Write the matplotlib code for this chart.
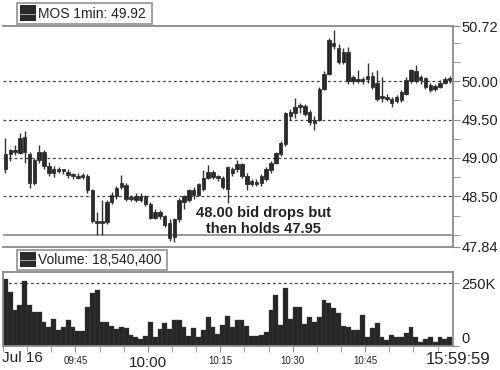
import numpy as np
import matplotlib
matplotlib.use("Agg")
import matplotlib.pyplot as plt
from matplotlib.patches import Rectangle
from matplotlib.lines import Line2D

plt.rcParams['font.family'] = ['Liberation Sans', 'DejaVu Sans']

# 1-minute bars from 09:30
opens = [48.85, 49.05, 49.10, 49.07, 49.28, 49.05, 48.68, 48.97, 49.08, 48.90,
         48.80, 48.86, 48.83, 48.82, 48.78, 48.77, 48.75, 48.77, 48.58, 48.18,
         48.15, 48.16, 48.43, 48.50, 48.62, 48.65, 48.46, 48.50, 48.45, 48.50,
         48.40, 48.22, 48.30, 48.24, 48.15, 47.97, 48.20, 48.42, 48.45, 48.58,
         48.52, 48.60, 48.74, 48.82, 48.75, 48.74, 48.60, 48.80, 48.85, 48.92,
         48.76, 48.70, 48.66, 48.68, 48.72, 48.84, 48.93, 49.05, 49.18, 49.55,
         49.58, 49.66, 49.68, 49.60, 49.50, 49.50, 49.90, 50.10, 50.50, 50.43,
         50.25, 50.38, 50.00, 50.02, 50.00, 50.03, 50.07, 49.98, 49.78, 49.80,
         49.77, 49.74, 49.75, 49.84, 50.00, 50.14, 50.02, 50.04, 49.95, 49.90,
         49.93, 49.98, 50.01]
highs = [49.26, 49.12, 49.17, 49.33, 49.35, 49.08, 49.00, 49.17, 49.10, 48.95,
         48.90, 48.88, 48.86, 48.85, 48.81, 48.80, 48.80, 48.79, 48.60, 48.30,
         48.45, 48.45, 48.56, 48.63, 48.78, 48.68, 48.52, 48.54, 48.55, 48.52,
         48.42, 48.34, 48.32, 48.26, 48.20, 48.22, 48.48, 48.52, 48.60, 48.62,
         48.68, 48.84, 48.91, 48.84, 48.78, 48.76, 48.90, 48.88, 48.97, 48.94,
         48.80, 48.73, 48.72, 48.79, 48.88, 48.96, 49.08, 49.22, 49.60, 49.64,
         49.78, 49.72, 49.70, 49.62, 49.55, 49.92, 50.13, 50.56, 50.67, 50.48,
         50.43, 50.45, 50.08, 50.15, 50.06, 50.24, 50.12, 50.15, 50.06, 49.83,
         49.80, 49.82, 49.88, 50.05, 50.16, 50.21, 50.08, 50.06, 49.98, 49.96,
         50.01, 50.05, 50.07]
lows = [48.80, 48.96, 49.04, 49.05, 48.93, 48.61, 48.65, 48.93, 48.86, 48.76,
        48.75, 48.80, 48.79, 48.74, 48.72, 48.72, 48.72, 48.55, 48.15, 48.00,
        48.00, 48.14, 48.40, 48.47, 48.60, 48.44, 48.44, 48.42, 48.42, 48.38,
        48.20, 48.20, 48.20, 48.10, 47.92, 47.90, 48.16, 48.34, 48.42, 48.46,
        48.50, 48.57, 48.72, 48.72, 48.70, 48.60, 48.41, 48.76, 48.82, 48.74,
        48.58, 48.63, 48.63, 48.64, 48.70, 48.80, 48.92, 49.02, 49.15, 49.50,
        49.52, 49.58, 49.55, 49.43, 49.36, 49.48, 49.88, 50.08, 50.42, 50.22,
        50.22, 49.97, 49.97, 49.98, 49.97, 49.98, 49.90, 49.74, 49.73, 49.74,
        49.66, 49.72, 49.73, 49.82, 49.98, 49.98, 49.97, 49.90, 49.86, 49.87,
        49.91, 49.96, 49.98]
closes = [49.05, 49.10, 49.08, 49.26, 49.08, 48.67, 48.97, 49.08, 48.90, 48.80,
          48.86, 48.83, 48.84, 48.78, 48.76, 48.74, 48.77, 48.58, 48.18, 48.15,
          48.18, 48.43, 48.52, 48.61, 48.67, 48.46, 48.49, 48.45, 48.51, 48.40,
          48.22, 48.30, 48.24, 48.13, 47.96, 48.20, 48.45, 48.50, 48.58, 48.52,
          48.66, 48.74, 48.82, 48.75, 48.74, 48.62, 48.88, 48.85, 48.92, 48.76,
          48.66, 48.66, 48.68, 48.77, 48.86, 48.94, 49.06, 49.20, 49.58, 49.60,
          49.66, 49.69, 49.57, 49.47, 49.45, 49.90, 50.10, 50.54, 50.46, 50.25,
          50.38, 50.00, 50.05, 50.00, 50.03, 50.07, 49.93, 49.77, 49.80, 49.77,
          49.72, 49.80, 49.86, 50.02, 50.15, 50.00, 50.05, 49.93, 49.89, 49.94,
          49.98, 50.03, 50.04]
# volume in thousands of shares
volume = [266, 214, 143, 163, 258, 163, 135, 135, 95, 75, 107, 64, 75, 103, 75,
          60, 60, 155, 210, 222, 95, 95, 79, 67, 75, 71, 44, 36, 28, 40, 95, 36,
          67, 91, 67, 103, 103, 75, 40, 71, 36, 64, 115, 75, 48, 83, 119, 75,
          103, 103, 79, 40, 40, 44, 56, 143, 202, 83, 230, 107, 155, 155, 87,
          115, 95, 115, 183, 171, 151, 131, 79, 75, 64, 64, 123, 36, 71, 91, 36,
          24, 44, 36, 36, 52, 75, 36, 16, 28, 36, 16, 36, 28, 36]

price_ticks = [50.72, 50.00, 49.50, 49.00, 48.50, 47.84]
price_grid = [50.00, 49.50, 49.00, 48.50]
time_ticks = [15, 30, 45, 60, 75]
time_labels = ['09:45', '10:00', '10:15', '10:30', '10:45']

W, H = 500, 370
fig = plt.figure(figsize=(5, 3.7), dpi=100)

def fx(x):
    return x / W

def fy(y):
    return 1 - y / H

spine_c = '#8a8a8a'
ink = '#202020'
xmax = 93.2

ax = fig.add_axes([fx(3), fy(247), fx(450), (247 - 26) / H])
ax2 = fig.add_axes([fx(3), fy(346), fx(450), (346 - 272) / H])

# price candles
x = np.arange(len(opens)) + 0.5
o = np.array(opens)
c = np.array(closes)
ax.vlines(x, lows, highs, color='#333333', lw=1.0)
body = np.maximum(np.abs(c - o), 0.025)
ax.bar(x, body, bottom=np.minimum(o, c), width=0.72, color=ink, edgecolor=ink, lw=0.5)

for g in price_grid:
    ax.axhline(g, color='#444444', lw=0.9, ls=(0, (2.2, 2.2)), zorder=0)
ax.axhline(48.00, color='#999999', lw=1.4, zorder=0)

ax.set_xlim(0, xmax)
ax.set_ylim(47.84, 50.72)
ax.yaxis.tick_right()
ax.set_yticks(price_ticks)
ax.set_yticklabels(['%.2f' % v for v in price_ticks])
ax.set_yticks(np.arange(48.0, 50.72, 0.25), minor=True)
ax.tick_params(axis='y', which='both', right=True, direction='out', length=5,
               color=spine_c, labelsize=10.5, pad=1, labelcolor='#222222')
ax.tick_params(axis='x', which='both', bottom=False, labelbottom=False)
ax.spines['left'].set_visible(False)
for s in ['top', 'right', 'bottom']:
    ax.spines[s].set_color(spine_c)
    ax.spines[s].set_linewidth(1.3)

ax.text(54.0, 48.18, '48.00 bid drops but\nthen holds 47.95', ha='center', va='center',
        fontsize=10.5, fontweight='bold', color='#222222', linespacing=1.15)

# volume
ax2.bar(np.arange(len(volume)), volume, width=1.0, align='edge', color='#262626',
        edgecolor='#444444', lw=0.25)
ax2.axhline(250, color='#444444', lw=0.9, ls=(0, (2.2, 2.2)), zorder=0)
ax2.set_xlim(0, xmax)
ax2.set_ylim(0, 293.7)
ax2.yaxis.tick_right()
ax2.set_yticks([0, 250])
ax2.set_yticklabels(['0', '250K'])
ax2.tick_params(axis='y', right=True, direction='out', length=4, color=spine_c,
                labelsize=10.5, pad=2, labelcolor='#222222')
ax2.get_yticklabels()[0].set_verticalalignment('bottom')
ax2.set_xticks(np.arange(0, 95, 5), minor=True)
ax2.set_xticks(time_ticks)
ax2.set_xticklabels(time_labels)
ax2.tick_params(axis='x', which='both', direction='out', length=4, color=spine_c,
                labelsize=7, pad=3, labelcolor='#222222')
for lab in ax2.get_xticklabels():
    if lab.get_text() == '10:00':
        lab.set_fontsize(11)
for s in ['top', 'right', 'bottom', 'left']:
    ax2.spines[s].set_color(spine_c)
    ax2.spines[s].set_linewidth(1.3)

fig.text(fx(2), fy(358), 'Jul 16', ha='left', va='center', fontsize=11, color='#222222')
fig.text(fx(458), fy(359), '15:59:59', ha='center', va='center', fontsize=12, color='#222222')

# legend boxes
def legend_box(x0, y0, x1, y1, label):
    fig.add_artist(Rectangle((fx(x0), fy(y1)), fx(x1 - x0), (y1 - y0) / H,
                             transform=fig.transFigure, facecolor='white',
                             edgecolor='#9a9a9a', lw=1.3))
    fig.add_artist(Rectangle((fx(x0 + 3), fy(y1 - 3)), fx(16), (y1 - y0 - 5) / H,
                             transform=fig.transFigure, facecolor='#2a2a2a',
                             edgecolor='none'))
    ym = (y0 + y1) / 2
    fig.add_artist(Line2D([fx(x0 + 3), fx(x0 + 19)], [fy(ym), fy(ym)],
                          transform=fig.transFigure, color='#bbbbbb', lw=0.6))
    fig.text(fx(x0 + 21), fy(ym + 0.5), label, ha='left', va='center',
             fontsize=10, color='#222222')

legend_box(17, 3, 152, 24, 'MOS 1min: 49.92')
legend_box(17, 250, 167, 270, 'Volume: 18,540,400')

fig.savefig('out.png', dpi=100, facecolor='white')
